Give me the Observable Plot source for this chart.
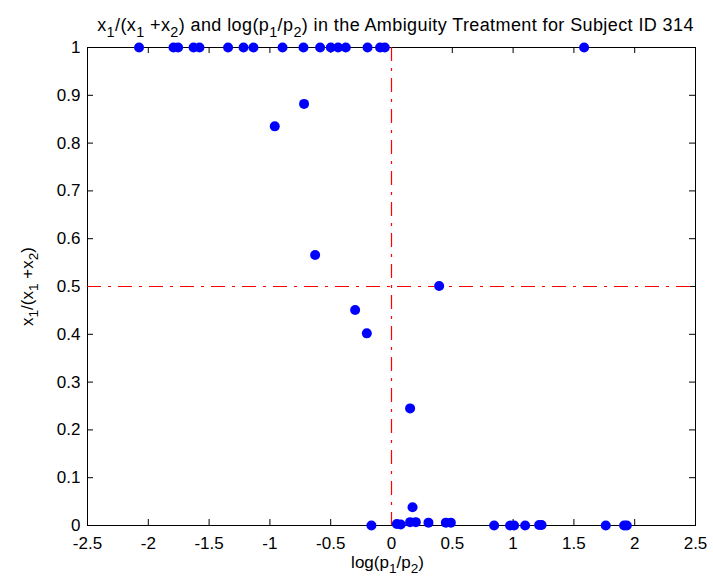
<!DOCTYPE html>
<html><head><meta charset="utf-8">
<script src="https://cdn.jsdelivr.net/npm/d3@7"></script>
<script src="https://cdn.jsdelivr.net/npm/@observablehq/plot@0.6"></script>
<style>body{margin:0;background:#fff}</style>
</head><body><div id="chart"></div>
<script>
const titleText = "x_1/(x_1 +x_2) and log(p_1/p_2) in the Ambiguity Treatment for Subject ID 314";
const xLabel = "log(p_1/p_2)";
const yLabel = "x_1/(x_1 +x_2)";
const xTicks = [-2.5, -2, -1.5, -1, -0.5, 0, 0.5, 1, 1.5, 2, 2.5];
const yTicks = [0, 0.1, 0.2, 0.3, 0.4, 0.5, 0.6, 0.7, 0.8, 0.9, 1];
const refX = [0];
const refY = [0.5];

// log(p1/p2) for each observation
const logRatio = [
  -2.076, -1.793, -1.755, -1.628, -1.579, -1.344, -1.217, -1.135, -0.896,
  -0.724, -0.587, -0.499, -0.439, -0.376, -0.197, -0.094, -0.055, 1.584,
  -0.960, -0.719, -0.628, -0.299, -0.203, 0.153, 0.173, 0.392,
  -0.165, 0.044, 0.076, 0.153, 0.200, 0.304, 0.447, 0.488,
  0.844, 0.975, 1.008, 1.099, 1.214, 1.234, 1.762, 1.913, 1.935
];
// x1/(x1+x2) for each observation
const share = [
  1, 1, 1, 1, 1, 1, 1, 1, 1,
  1, 1, 1, 1, 1, 1, 1, 1, 1,
  0.835, 0.882, 0.566, 0.451, 0.402, 0.245, 0.038, 0.501,
  0, 0.003, 0.002, 0.007, 0.007, 0.006, 0.006, 0.006,
  0, 0, 0, 0, 0.001, 0.001, 0, 0, 0
];

const W = 713, H = 584, mt = 47, mb = 59, ml = 87, mr = 18;
const plotH = H - mt - mb, plotW = W - ml - mr;
const fs = 17, tfs = 18, tickLen = 6;
const data = logRatio.map((v, i) => ({x: v, y: share[i]}));
const dash = "14,7,3,7";

const chart = Plot.plot({
  width: W, height: H,
  marginTop: mt, marginBottom: mb, marginLeft: ml, marginRight: mr,
  x: {domain: [-2.5, 2.5], label: null},
  y: {domain: [0, 1], label: null},
  style: {fontFamily: "'Liberation Sans', Arial, sans-serif", fontSize: fs + "px", color: "black", background: "white"},
  marks: [
    Plot.frame({stroke: "black", strokeWidth: 1}),
    Plot.ruleX(xTicks, {x: d => d, insetTop: plotH - tickLen, stroke: "black"}),
    Plot.ruleX(xTicks, {x: d => d, insetBottom: plotH - tickLen, stroke: "black"}),
    Plot.ruleY(yTicks, {y: d => d, insetRight: plotW - tickLen, stroke: "black"}),
    Plot.ruleY(yTicks, {y: d => d, insetLeft: plotW - tickLen, stroke: "black"}),
    Plot.axisX({ticks: xTicks, tickSize: 0, tickPadding: 11, tickFormat: d => String(d), label: null, fontSize: fs}),
    Plot.axisY({ticks: yTicks, tickSize: 0, tickPadding: 7, tickFormat: d => String(d), label: null, fontSize: fs}),
    Plot.ruleX(refX, {x: d => d, stroke: "#ff0000", strokeOpacity: 1, strokeWidth: 1.2, strokeDasharray: dash}),
    Plot.ruleY(refY, {y: d => d, stroke: "#ff0000", strokeOpacity: 1, strokeWidth: 1.2, strokeDasharray: dash}),
    Plot.dot(data, {x: "x", y: "y", r: 5, fill: "#0000ff", stroke: null}),
    Plot.text([titleText], {text: d => d, frameAnchor: "top", textAnchor: "middle", dy: -29, dx: 4, fontSize: tfs, fill: "black"}),
    Plot.text([xLabel], {text: d => d, frameAnchor: "bottom", textAnchor: "middle", dy: 42, dx: -4, fontSize: fs, fill: "black"}),
    Plot.text([yLabel], {text: d => d, frameAnchor: "left", textAnchor: "middle", dx: -60, rotate: -90, fontSize: fs, fill: "black"})
  ]
});

// Render "_n" as subscripts
chart.querySelectorAll("text").forEach(t => {
  const s = t.textContent;
  if (!s.includes("_")) return;
  const isTitle = s === titleText;
  const size = isTitle ? tfs : fs;
  const sub = size * 0.32;
  if (isTitle) t.style.letterSpacing = "0.4px";
  const parts = s.split(/_(\d)/);
  while (t.firstChild) t.removeChild(t.firstChild);
  let shifted = false;
  parts.forEach((p, i) => {
    if (p === "") return;
    const ts = document.createElementNS("http://www.w3.org/2000/svg", "tspan");
    ts.textContent = p;
    if (i % 2 === 1) {
      ts.setAttribute("dy", sub);
      ts.setAttribute("font-size", (size * 0.8) + "px");
      shifted = true;
    } else if (shifted) {
      ts.setAttribute("dy", -sub);
      shifted = false;
    }
    t.appendChild(ts);
  });
});

document.getElementById("chart").appendChild(chart);
</script>
</body></html>
